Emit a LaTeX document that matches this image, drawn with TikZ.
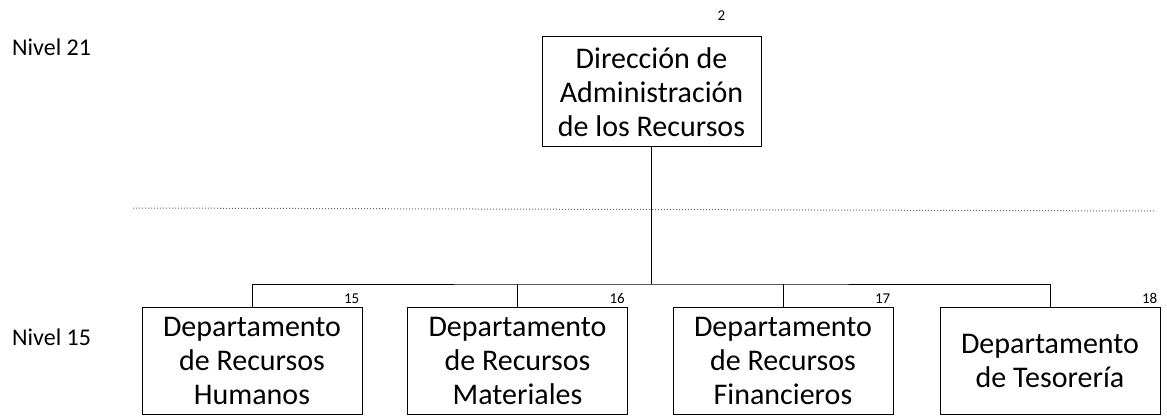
\documentclass[tikz,border=0pt]{standalone}
\usepackage{fontspec}
\setmainfont{Carlito}
\begin{document}
\begin{tikzpicture}[x=1pt,y=-1pt,
  unit/.style={draw=black, line width=1pt, align=center, inner sep=2pt,
    font=\fontsize{30}{34}\selectfont},
  dept/.style={unit, minimum width=220pt, minimum height=107pt},
  num/.style={font=\fontsize{15}{16}\selectfont, inner sep=0pt},
  nivel/.style={font=\fontsize{24}{26}\selectfont, inner sep=0pt, anchor=base west},
  conn/.style={line width=1pt},
  sep/.style={draw=black!60, line width=1pt, dotted}]
\useasboundingbox (0,0) rectangle (1167,417);
\fill[white] (0,0) rectangle (1167,417);

\node[nivel] (lv21) at (12,56) {Nivel 21};
\node[nivel] (lv15) at (12,345) {Nivel 15};

\node[unit, minimum width=219pt, minimum height=110pt] (top) at (651.5,92)
  {Dirección de\\Administración\\de los Recursos};
\node[num, anchor=south east] (n2) at ([xshift=-36pt,yshift=16pt]top.north east) {2};

\node[dept] (d1) at (252,360.5) {Departamento\\de Recursos\\Humanos};
\node[dept] (d2) at (517.5,360.5) {Departamento\\de Recursos\\Materiales};
\node[dept] (d3) at (783,360.5) {Departamento\\de Recursos\\Financieros};
\node[dept] (d4) at (1050,360.5) {Departamento\\de Tesorería};

\node[num, anchor=south east] (n15) at ([xshift=-3pt,yshift=3pt]d1.north east) {15};
\node[num, anchor=south east] (n16) at ([xshift=-3pt,yshift=3pt]d2.north east) {16};
\node[num, anchor=south east] (n17) at ([xshift=-3pt,yshift=3pt]d3.north east) {17};
\node[num, anchor=south east] (n18) at ([xshift=-3pt,yshift=3pt]d4.north east) {18};

\coordinate (bus) at (651.5,284);
\coordinate (sepL) at (133,208);
\coordinate (sepR) at (1155,211);

\draw[sep] (sepL) -- (sepR);
\draw[conn] (top.south) -- (bus);
\draw[conn] (d1.north) |- (bus) -| (d4.north);
\draw[conn] (d2.north) -- (d2.north |- bus);
\draw[conn] (d3.north) -- (d3.north |- bus);
\end{tikzpicture}
\end{document}
